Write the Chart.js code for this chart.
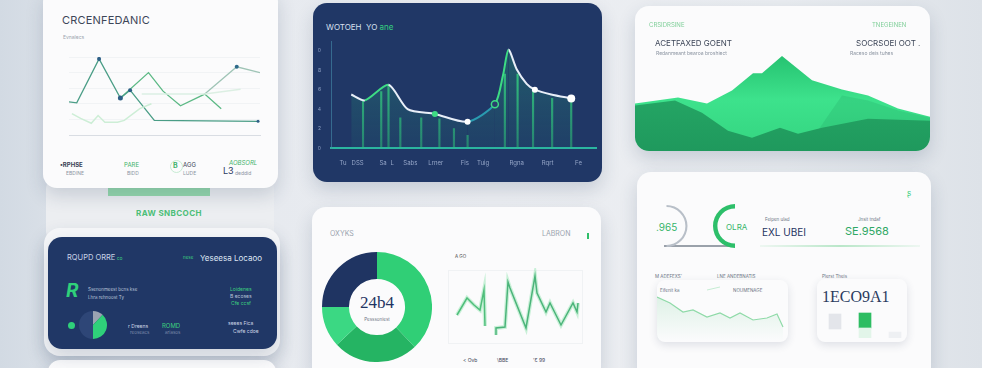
<!DOCTYPE html>
<html>
<head>
<meta charset="utf-8">
<script src="https://cdn.jsdelivr.net/npm/chart.js@4.4.0/dist/chart.umd.min.js"></script>
<style>
html,body{margin:0;padding:0}
body{width:982px;height:368px;overflow:hidden;position:relative;font-family:Inter,"Noto Sans",sans-serif;
  background:linear-gradient(90deg,#d2dae3 0%,#e3e7ed 12%,#eceef2 50%,#e9ecf0 80%,#dde2e8 100%)}
.card{position:absolute;border-radius:14px;overflow:hidden;box-shadow:0 8px 18px rgba(40,60,95,.18)}
.white{background:#fbfbfc}
.navy{background:#203766}
.t{position:absolute;white-space:nowrap;line-height:1}
canvas{position:absolute}
</style>
</head>
<body>

<!-- left column -->
<div class="card" style="left:46px;top:178px;width:228px;height:64px;background:#eceef1;border-radius:10px;box-shadow:none"></div>
<div style="position:absolute;left:108px;top:188px;width:102px;height:8px;background:#7fd39b;opacity:.8"></div>
<div class="t" style="left:136px;top:209px;font-size:8px;font-weight:700;color:#4cbf78;letter-spacing:.4px">RAW SNBCOCH</div>
<div class="card" style="left:44px;top:228px;width:236px;height:128px;background:#f5f6f8;border-radius:16px"></div>
<div class="card white" style="left:48px;top:360px;width:228px;height:30px;border-radius:12px"></div>

<div class="card white" style="left:43px;top:-12px;width:235px;height:200px"></div>
<div class="card navy" style="left:48px;top:237px;width:229px;height:112px"></div>

<!-- middle column -->
<div class="card navy" style="left:313px;top:3px;width:289px;height:179px"></div>
<div class="card white" style="left:312px;top:207px;width:289px;height:175px"></div>

<!-- right column -->
<div class="card white" id="card3" style="left:635px;top:6px;width:295px;height:145px">
  <canvas id="c3" width="295" height="103" style="left:0;top:42px"></canvas>
</div>
<div class="card white" style="left:637px;top:172px;width:294px;height:210px"></div>
<div class="card white" style="left:657px;top:280px;width:131px;height:62px;border-radius:8px;box-shadow:0 3px 8px rgba(40,60,95,.14)"></div>
<div class="card white" style="left:817px;top:279px;width:90px;height:63px;border-radius:8px;box-shadow:0 3px 8px rgba(40,60,95,.14)"></div>

<!-- card 1 texts -->
<div class="t" style="left:62px;top:15px;font-size:11px;color:#3d4658;letter-spacing:.2px">CRCENFEDANIC</div>
<div class="t" style="left:63px;top:35px;font-size:5px;color:#9aa3ae">Evnalecs</div>
<div class="t" style="left:60px;top:162px;font-size:6px;font-weight:700;color:#3a4356">&bull;RPHSE</div>
<div class="t" style="left:66px;top:171px;font-size:5px;color:#8a93a0">EBDINE</div>
<div class="t" style="left:124px;top:162px;font-size:6px;color:#3fb36b">PARE</div>
<div class="t" style="left:127px;top:171px;font-size:5px;color:#8a93a0">BIDD</div>
<div style="position:absolute;left:170px;top:160px;width:11px;height:11px;border-radius:50%;border:1.5px solid #c6ecd3"></div>
<div class="t" style="left:173px;top:162px;font-size:7px;font-weight:700;color:#3fb36b">B</div>
<div class="t" style="left:183px;top:162px;font-size:6px;color:#3a4356">AGG</div>
<div class="t" style="left:183px;top:171px;font-size:5px;color:#8a93a0">LUDE</div>
<div class="t" style="left:229px;top:160px;font-size:6px;font-style:italic;color:#3fb36b">AOBSORL</div>
<div class="t" style="left:223px;top:166px;font-size:9px;color:#2a3a5e">L3</div>
<div class="t" style="left:235px;top:171px;font-size:5px;color:#8a93a0">deddid</div>

<!-- card 4 texts -->
<div class="t" style="left:67px;top:254px;font-size:7.5px;color:#c9d3e6">RQUPD ORRE<span style="color:#3ccf7f;font-size:5px"> co</span></div>
<div class="t" style="left:183px;top:256px;font-size:4.5px;color:#3ccf7f">nese</div>
<div class="t" style="left:200px;top:254px;font-size:8px;color:#dfe6f3">Yeseesa Locaoo</div>
<div class="t" style="left:66px;top:281px;font-size:19px;font-weight:700;font-style:italic;color:#2fd07a">R</div>
<div class="t" style="left:88px;top:288px;font-size:4.5px;color:#b9c4d9">Ssenonmeest bcns kse</div>
<div class="t" style="left:88px;top:296px;font-size:4.5px;color:#b9c4d9">Lhra rehnoost Ty</div>
<div class="t" style="left:230px;top:287px;font-size:5px;color:#3ccf7f">Loidenes</div>
<div class="t" style="left:230px;top:294px;font-size:5px;color:#b9c4d9">B ecoses</div>
<div class="t" style="left:231px;top:301px;font-size:5px;color:#3ccf7f">Cfe ccsf</div>
<div style="position:absolute;left:68px;top:322px;width:7px;height:7px;border-radius:50%;background:#2fd07a"></div>
<div class="t" style="left:128px;top:324px;font-size:5px;color:#d0d8e8">r Dreens</div>
<div class="t" style="left:130px;top:331px;font-size:4.5px;color:#7d8cab">reoseacs</div>
<div class="t" style="left:162px;top:323px;font-size:6px;color:#3ccf7f">ROMD</div>
<div class="t" style="left:165px;top:331px;font-size:4.5px;color:#7d8cab">ariasos</div>
<div class="t" style="left:228px;top:321px;font-size:5px;color:#d0d8e8">seees Fica</div>
<div class="t" style="left:233px;top:329px;font-size:5px;color:#d0d8e8">Cwfe cdoe</div>

<!-- card 2 texts -->
<div class="t" style="left:326px;top:23px;font-size:8px;color:#d8e0f0">WOTOEH &nbsp;YO <span style="color:#35d07f">ane</span></div>

<!-- card 3 texts -->
<div class="t" style="left:649px;top:22px;font-size:6px;color:#7fcf98">CRSIDRSINE</div>
<div class="t" style="left:872px;top:22px;font-size:6px;color:#7fcf98">TNEGEINEN</div>
<div class="t" style="left:655px;top:39px;font-size:8px;color:#3d4658">ACETFAXED GOENT</div>
<div class="t" style="left:656px;top:51px;font-size:5px;color:#8a93a0">Redanmeant bearoa broshiect</div>
<div class="t" style="left:856px;top:39px;font-size:8px;color:#3d4658">SOCRSOEI OOT .</div>
<div class="t" style="left:850px;top:51px;font-size:5px;color:#8a93a0">Raceso deis tuhes</div>

<!-- card 5 texts -->
<div class="t" style="left:330px;top:230px;font-size:7px;color:#9aa3ae">OXYKS</div>
<div class="t" style="left:542px;top:230px;font-size:7px;color:#9aa3ae">LABRON</div>
<div style="position:absolute;left:587px;top:233px;width:1.5px;height:6px;background:#2fbf6a"></div>
<div style="position:absolute;left:448px;top:270px;width:133px;height:72px;border:1px solid #f0f2f4"></div>
<div class="t" style="left:455px;top:255px;font-size:4.5px;color:#444">A GO</div>
<div class="t" style="left:463px;top:358px;font-size:5px;color:#3a4356">&lt; Ovb</div>
<div class="t" style="left:497px;top:358px;font-size:5px;color:#3a4356">\BBE</div>
<div class="t" style="left:533px;top:358px;font-size:5px;color:#3a4356">'Ɛ 99</div>
<div class="t" style="left:355px;top:294px;width:44px;text-align:center;font-size:17px;color:#1f3462;font-family:'Liberation Serif',serif">24b4</div>
<div class="t" style="left:347px;top:318px;width:60px;text-align:center;font-size:4.5px;color:#6a7383">Pesssoniest</div>

<!-- card 6 texts -->
<div class="t" style="left:656px;top:222px;font-size:10px;color:#37b56a">.965</div>
<div class="t" style="left:726px;top:223px;font-size:8px;color:#37b56a">OLRA</div>
<div style="position:absolute;left:664px;top:245px;width:68px;height:1.5px;background:#9aa1aa"></div>
<div class="t" style="left:765px;top:218px;font-size:4.5px;color:#6a7383">Feipen ulad</div>
<div class="t" style="left:762px;top:227px;font-size:10px;color:#1f3462">EXL UBEI</div>
<div class="t" style="left:858px;top:218px;font-size:4.5px;color:#6a7383">Jnsit tndaf</div>
<div class="t" style="left:845px;top:226px;font-size:11px;color:#2fa865">SE.9568</div>
<div style="position:absolute;left:760px;top:245px;width:160px;height:2px;background:linear-gradient(90deg,rgba(120,210,150,.1),rgba(120,210,150,.5),rgba(120,210,150,.1))"></div>
<div class="t" style="left:907px;top:189px;font-size:8px;color:#3ccf7f">ʂ</div>
<div class="t" style="left:655px;top:275px;font-size:4.5px;color:#6a7383">M ADEFEXS'</div>
<div class="t" style="left:717px;top:275px;font-size:4.5px;color:#6a7383">LNE ANDEBNATIS</div>
<div class="t" style="left:660px;top:289px;font-size:4.5px;color:#6a7383">Eifenit ka</div>
<div class="t" style="left:733px;top:289px;font-size:4.5px;color:#6a7383">NOUMENAGE</div>
<div class="t" style="left:822px;top:275px;font-size:4.5px;color:#6a7383">Plerst Theis</div>
<div class="t" style="left:822px;top:289px;font-size:16px;color:#2a3a5e;font-family:'Liberation Serif',serif">1ECO9A1</div>

<!-- charts -->
<canvas id="c1" width="199" height="86" style="left:65px;top:53px"></canvas>
<canvas id="c2" width="282" height="136" style="left:318px;top:36px"></canvas>
<canvas id="c4" width="28" height="28" style="left:79px;top:311px"></canvas>
<canvas id="c5" width="110" height="110" style="left:322px;top:252px"></canvas>
<canvas id="c5b" width="132" height="72" style="left:450px;top:268px"></canvas>
<canvas id="r1" width="42" height="42" style="left:656px;top:205px"></canvas>
<canvas id="r2" width="44" height="44" style="left:702px;top:204px"></canvas>
<canvas id="c6a" width="131" height="57" style="left:657px;top:285px"></canvas>
<canvas id="c6b" width="90" height="32" style="left:820px;top:306px"></canvas>

<script>
// card 1: trend lines
const trendAX = [0, 0.8, 3.1, 5.3, 6.3, 8.8, 19.5];
const trendAY = [34, 33, 78, 38, 46, 15, 14];
const trendBX = [5.3, 8.2, 9.7, 11.5, 14, 15.7];
const trendBY = [38, 64, 45, 30, 42, 27];
const trendCX = [14, 17.3, 19.7];
const trendCY = [42, 70, 64];
const flatX = [7.5, 14, 17.7];
const flatY = [42, 42, 47];
const paleX = [0.3, 1.2, 2.3, 3, 3.7, 5, 5.7, 7.3, 8.5];
const paleY = [22, 17, 12, 20, 13, 13, 15, 27, 32];

// card 2: line + thin bars
const waveX = [0.9, 2.4, 5, 7.1, 10.1, 13.7, 16.7, 17.6, 18.2, 19.1, 20.2, 21.1, 22.9, 25.1];
const waveY = [55, 49, 65, 40, 35, 27, 45, 75, 101, 81, 66, 60, 55, 51];
const stickX = [2.2, 4.2, 5, 6.3, 8.6, 10.6, 12.2, 13.7, 17.8, 19.2, 20.9, 23, 25.1];
const stickY = [48, 58, 65, 31, 31, 30, 20, 13, 76, 76, 58, 51, 48];
const waveTickX = [0, 1.6, 4.4, 5.4, 7.4, 10.2, 13.4, 15.4, 19.1, 22.5, 25.9];
const waveTickLabels = ['Tu', 'DSS', 'Sa', 'L', 'Sabs', 'Lrner', 'Fis', 'Tuig', 'Rgna', 'Rqrt', 'Fe'];
const waveYLabels = ['0', '2', '4', '6', '8', '10'];

// card 3: mountain layers
const hillBackX = [0, 4.3, 7.2, 9.7, 11.8, 12.7, 14.7, 17.7, 20.7, 23.3, 26.3, 29.5];
const hillBackY = [47, 53, 47, 60, 77, 77, 94, 70, 61, 55, 42, 34];
const ridgeX = [17.7, 20.7, 23.3, 26.3, 29.5];
const ridgeY = [12, 55, 50, 40, 33];
const hillFrontX = [0, 4, 6.7, 9.3, 11.7, 14.5, 16.3, 18.7, 23.3, 29.5];
const hillFrontY = [45, 50, 38, 20, 13, 23, 17, 23, 32, 30];

// card 4: pie
const pieValues = [12, 38, 50];

// card 5: donut + zigzag
const donutValues = [38, 25, 12, 25];
const zigAX = [0.7, 1.7, 2.4, 3, 3.4, 3.5];
const zigAY = [25, 42, 35, 30, 50, 14];
const zigBX = [4.6, 4.6, 5.5, 5.8, 6.0, 7.6, 8.5, 8.7, 9.6, 10.0, 11.1, 12.3, 12.7, 12.8];
const zigBY = [5, 12, 13, 58, 52, 12, 64, 47, 28, 37, 15, 37, 28, 37];

// card 6: small line + bars
const softX = [0, 1.3, 2.6, 3.6, 5, 6.3, 7.3, 8.3, 9.6, 11, 12, 12.6];
const softY = [45, 39, 30, 32, 25, 29, 24, 29, 22, 24, 28, 15];
const softHintX = [5, 6.3];
const softHintY = [52, 55];
const blockCats = ['A', 'B', 'C'];
const blockBase = [9, 10, 6];
const blockTop = [15, 15, 0];

Chart.defaults.animation = false;
Chart.defaults.responsive = false;
Chart.defaults.devicePixelRatio = 1;
Chart.defaults.plugins.legend.display = false;
Chart.defaults.plugins.tooltip.enabled = false;
Chart.defaults.font.family = 'Inter, "Noto Sans", sans-serif';

const pts = (xs, ys) => xs.map((x, i) => ({ x: x, y: ys[i] }));

function vGrad(stops) {
  return function (ctx) {
    const area = ctx.chart.chartArea;
    if (!area) return stops[0][1];
    const g = ctx.chart.ctx.createLinearGradient(0, area.top, 0, area.bottom);
    stops.forEach(s => g.addColorStop(s[0], s[1]));
    return g;
  };
}

const bare = (xmax, ymax) => ({
  x: { type: 'linear', display: false, min: 0, max: xmax },
  y: { display: false, min: 0, max: ymax }
});

// card 1
new Chart(document.getElementById('c1'), {
  type: 'line',
  data: {
    datasets: [
      { data: pts(paleX, paleY), borderColor: '#cdeed6', borderWidth: 1.5, pointRadius: 0 },
      { data: pts(flatX, flatY), borderColor: '#dcefe3', borderWidth: 1.5, pointRadius: 0 },
      { data: pts(trendAX, trendAY), borderColor: '#4a9d86', borderWidth: 1.3,
        pointRadius: [0, 0, 2, 2.5, 2, 0, 1.5], pointBackgroundColor: '#2d5f86', pointBorderWidth: 0 },
      { data: pts(trendBX, trendBY), borderColor: '#5cb985', borderWidth: 1.3, pointRadius: 0 },
      { data: pts(trendCX, trendCY), borderColor: '#9fc4b6', borderWidth: 1.3,
        pointRadius: [0, 2, 0], pointBackgroundColor: '#2d6a8a', pointBorderWidth: 0 }
    ]
  },
  options: {
    layout: { padding: { top: 2, right: 2 } },
    scales: {
      x: { type: 'linear', min: 0, max: 19.7, ticks: { display: false }, grid: { display: false },
           border: { color: '#d9dde3' }, afterFit: s => { s.height = 4; } },
      y: { min: 0, max: 80, ticks: { display: false, stepSize: 16 },
           grid: { color: '#f1f3f5', drawTicks: false }, border: { display: false },
           afterFit: s => { s.width = 0; } }
    }
  }
});

// card 2
const waveSegColors = ['#e8eef8', '#3ddc84', '#e8eef8', '#e8eef8', '#e8eef8', '#2a9bb0', '#3ddc84', '#3ddc84',
                       '#e8eef8', '#e8eef8', '#e8eef8', '#e8eef8', '#e8eef8'];
new Chart(document.getElementById('c2'), {
  data: {
    datasets: [
      { type: 'line', order: 0, data: pts(waveX, waveY), tension: 0.25, borderWidth: 2,
        segment: { borderColor: c => waveSegColors[c.p0DataIndex] },
        fill: 'origin', backgroundColor: vGrad([[0, 'rgba(40,190,120,0.30)'], [1, 'rgba(40,170,130,0.08)']]),
        pointRadius: [0, 0, 0, 0, 3, 3, 3.5, 0, 0, 0, 0, 3, 0, 4],
        pointBackgroundColor: ['#fff', '#fff', '#fff', '#fff', '#3ddc84', '#ffffff', '#2a3f6e', '#fff',
                               '#fff', '#fff', '#fff', '#ffffff', '#fff', '#ffffff'],
        pointBorderColor: '#3ddc84', pointBorderWidth: [0, 0, 0, 0, 0, 0, 1.5, 0, 0, 0, 0, 0, 0, 0] },
      { type: 'bar', order: 1, data: pts(stickX, stickY), barThickness: 1.5,
        backgroundColor: vGrad([[0, '#3ddc84'], [1, 'rgba(45,200,120,0.5)']]) }
    ]
  },
  options: {
    layout: { padding: { top: 2, right: 4 } },
    scales: {
      x: { type: 'linear', min: 0, max: 26.5,
           afterBuildTicks: s => { s.ticks = waveTickX.map(v => ({ value: v })); },
           ticks: { callback: (v, i) => waveTickLabels[i], color: '#95a6c8', font: { size: 6 },
                    maxRotation: 0, autoSkip: false, padding: 4 },
           grid: { display: false }, border: { color: '#2bb5a0', width: 2 },
           afterFit: s => { s.height = 24; } },
      y: { min: 0, max: 110, ticks: { stepSize: 20, callback: v => waveYLabels[v / 20],
           color: '#8ea0c4', font: { size: 5 }, padding: 2 },
           grid: { display: false }, border: { color: 'rgba(70,140,170,0.6)' },
           afterFit: s => { s.width = 13; } }
    }
  }
});

// card 3 (higher order is drawn first, so the back hill gets the highest)
new Chart(document.getElementById('c3'), {
  type: 'line',
  data: {
    datasets: [
      { order: 3, data: pts(hillBackX, hillBackY), fill: 'origin', borderWidth: 0, pointRadius: 0,
        backgroundColor: vGrad([[0, '#22bd6c'], [0.5, '#3de28c'], [1, '#34d480']]) },
      { order: 2, data: pts(ridgeX, ridgeY), fill: 'origin', borderWidth: 0, pointRadius: 0,
        backgroundColor: 'rgba(30,160,95,0.22)' },
      { order: 1, data: pts(hillFrontX, hillFrontY), fill: 'origin', borderWidth: 0, pointRadius: 0,
        backgroundColor: vGrad([[0, '#29b26b'], [0.5, '#24a564'], [1, '#1f995d']]) }
    ]
  },
  options: { layout: { padding: 0 }, scales: bare(29.5, 102) }
});

// card 4 pie
new Chart(document.getElementById('c4'), {
  type: 'pie',
  data: { labels: ['a', 'b', 'c'], datasets: [{ data: pieValues, borderWidth: 0,
          backgroundColor: ['#9aa3b2', '#2fd07a', '#2e4677'] }] }
});

// card 5 donut
new Chart(document.getElementById('c5'), {
  type: 'doughnut',
  data: { labels: ['a', 'b', 'c', 'd'], datasets: [{ data: donutValues, borderWidth: 0,
          backgroundColor: ['#30cf76', '#25b463', '#3bd883', '#1f3462'] }] },
  options: { cutout: '51%' }
});

// card 5 zigzag
new Chart(document.getElementById('c5b'), {
  type: 'line',
  data: {
    datasets: [
      { data: pts(zigAX, zigAY), borderColor: 'rgba(110,220,150,0.35)', borderWidth: 4, pointRadius: 0 },
      { data: pts(zigBX, zigBY), borderColor: 'rgba(110,220,150,0.35)', borderWidth: 4, pointRadius: 0 },
      { data: pts(zigAX, zigAY), borderColor: '#3fae6e', borderWidth: 1.5, pointRadius: 0 },
      { data: pts(zigBX, zigBY), borderColor: '#3a9e6c', borderWidth: 1.5, pointRadius: 0 }
    ]
  },
  options: { scales: bare(13.2, 72) }
});

// card 6 rings
new Chart(document.getElementById('r1'), {
  type: 'doughnut',
  data: { labels: ['a'], datasets: [{ data: [1], borderWidth: 0, backgroundColor: '#b8bfc8' }] },
  options: { rotation: 0, circumference: 180, cutout: '90%' }
});
new Chart(document.getElementById('r2'), {
  type: 'doughnut',
  data: { labels: ['a'], datasets: [{ data: [1], borderWidth: 0, backgroundColor: '#2dbf6a' }] },
  options: { rotation: 180, circumference: 180, cutout: '80%' }
});

// card 6 small line
new Chart(document.getElementById('c6a'), {
  type: 'line',
  data: {
    datasets: [
      { data: pts(softX, softY), borderColor: '#8fdaa8', borderWidth: 1.2, pointRadius: 0, fill: 'origin',
        backgroundColor: vGrad([[0, 'rgba(90,200,130,0.22)'], [1, 'rgba(90,200,130,0)']]) },
      { data: pts(softHintX, softHintY), borderColor: '#c5ecd3', borderWidth: 1, pointRadius: 0 }
    ]
  },
  options: { scales: bare(13.1, 57) }
});

// card 6 blocks
new Chart(document.getElementById('c6b'), {
  type: 'bar',
  data: {
    labels: blockCats,
    datasets: [
      { data: blockBase, backgroundColor: ['rgba(0,0,0,0)', '#e2f5e9', '#eef0f3'], barThickness: 12 },
      { data: blockTop, backgroundColor: ['#e3e5ea', '#2dbd62', '#ffffff'], barThickness: 12 }
    ]
  },
  options: {
    scales: {
      x: { display: false, stacked: true },
      y: { display: false, stacked: true, min: 0, max: 32 }
    }
  }
});
</script>
</body>
</html>
